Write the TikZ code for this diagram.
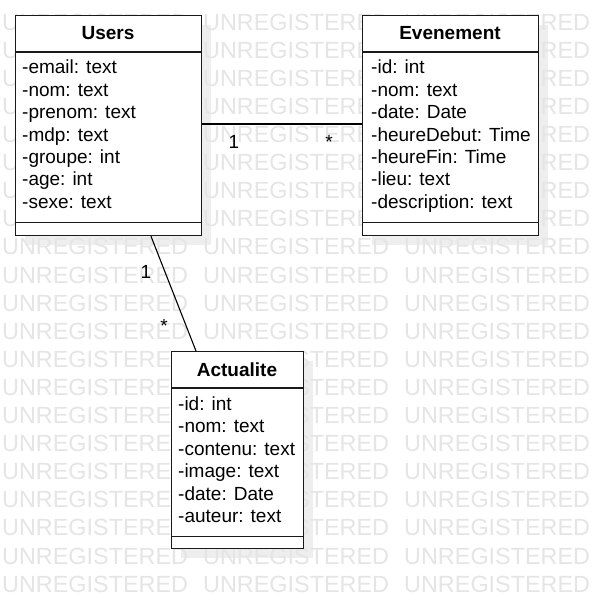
\documentclass[tikz,border=0pt]{standalone}
\usepackage{fontspec}
\setmainfont{Liberation Sans}
\definecolor{wm}{RGB}{229,229,229}
\definecolor{shadowc}{RGB}{238,238,238}
\definecolor{boxline}{RGB}{25,25,25}
\begin{document}
\begin{tikzpicture}[x=1pt,y=-1pt,
  classbox/.style={draw=boxline, line width=1.3pt, fill=white, inner sep=0pt, anchor=north west},
  divider/.style={draw=boxline, line width=1.3pt},
  wmtext/.style={text=wm, font=\fontsize{23.4}{24}\selectfont, anchor=base west, inner sep=0pt},
  titletext/.style={font=\fontsize{19}{22}\selectfont\bfseries, anchor=base, inner sep=0pt},
  attr/.style={font=\fontsize{19}{22}\selectfont, anchor=base west, inner sep=0pt},
  mult/.style={font=\fontsize{19}{22}\selectfont, anchor=base, inner sep=0pt},
  assoc/.style={draw=black, line width=1.1pt}]
\useasboundingbox[fill=white] (0,0) rectangle (597,609);
% shadows
\fill[shadowc] (25,25) rectangle (211,245);
\fill[shadowc] (372,25) rectangle (548,245);
\fill[shadowc] (181,361) rectangle (313,558);
% watermark
\foreach \k in {0,...,20} {
  \foreach \x in {2,203,404} {
    \node[wmtext] (wm-\k-\x) at (\x, {30.1+28.1*\k}) {UNREGISTERED};
  }
}
% Users
\node[classbox, minimum width=186pt, minimum height=220pt] (users) at (15,15) {};
\draw[divider] ([yshift=-37pt]users.north west) -- ([yshift=-37pt]users.north east);
\draw[divider] ([yshift=14pt]users.south west) -- ([yshift=14pt]users.south east);
\node[titletext] (users-t) at (108,40) {Users};
\foreach \t [count=\i from 0] in {-email: text,-nom: text,-prenom: text,-mdp: text,-groupe: int,-age: int,-sexe: text} {
  \node[attr] (users-a\i) at (22, {74+22.4*\i}) {\t};
}
% Evenement
\node[classbox, minimum width=176pt, minimum height=220pt] (even) at (362,15) {};
\draw[divider] ([yshift=-37pt]even.north west) -- ([yshift=-37pt]even.north east);
\draw[divider] ([yshift=14pt]even.south west) -- ([yshift=14pt]even.south east);
\node[titletext] (even-t) at (450,40) {Evenement};
\foreach \t [count=\i from 0] in {-id: int,-nom: text,-date: Date,-heureDebut: Time,-heureFin: Time,-lieu: text,-description: text} {
  \node[attr] (even-a\i) at (371, {74+22.4*\i}) {\t};
}
% Actualite
\node[classbox, minimum width=132pt, minimum height=197pt] (act) at (171,351) {};
\draw[divider] ([yshift=-37pt]act.north west) -- ([yshift=-37pt]act.north east);
\draw[divider] ([yshift=13pt]act.south west) -- ([yshift=13pt]act.south east);
\node[titletext] (act-t) at (237,376) {Actualite};
\foreach \t [count=\i from 0] in {-id: int,-nom: text,-contenu: text,-image: text,-date: Date,-auteur: text} {
  \node[attr] (act-a\i) at (178, {410+22.5*\i}) {\t};
}
% associations
\draw[assoc] (users.east |- 0,124) -- (even.west |- 0,124);
\draw[assoc] (users.south -| 151,0) -- (act.north -| 196,0);
\node[mult] (m1) at (234,148.5) {1};
\node[mult] (m2) at (329,148.5) {*};
\node[mult] (m3) at (146,278.5) {1};
\node[mult] (m4) at (164,332) {*};
\end{tikzpicture}
\end{document}
